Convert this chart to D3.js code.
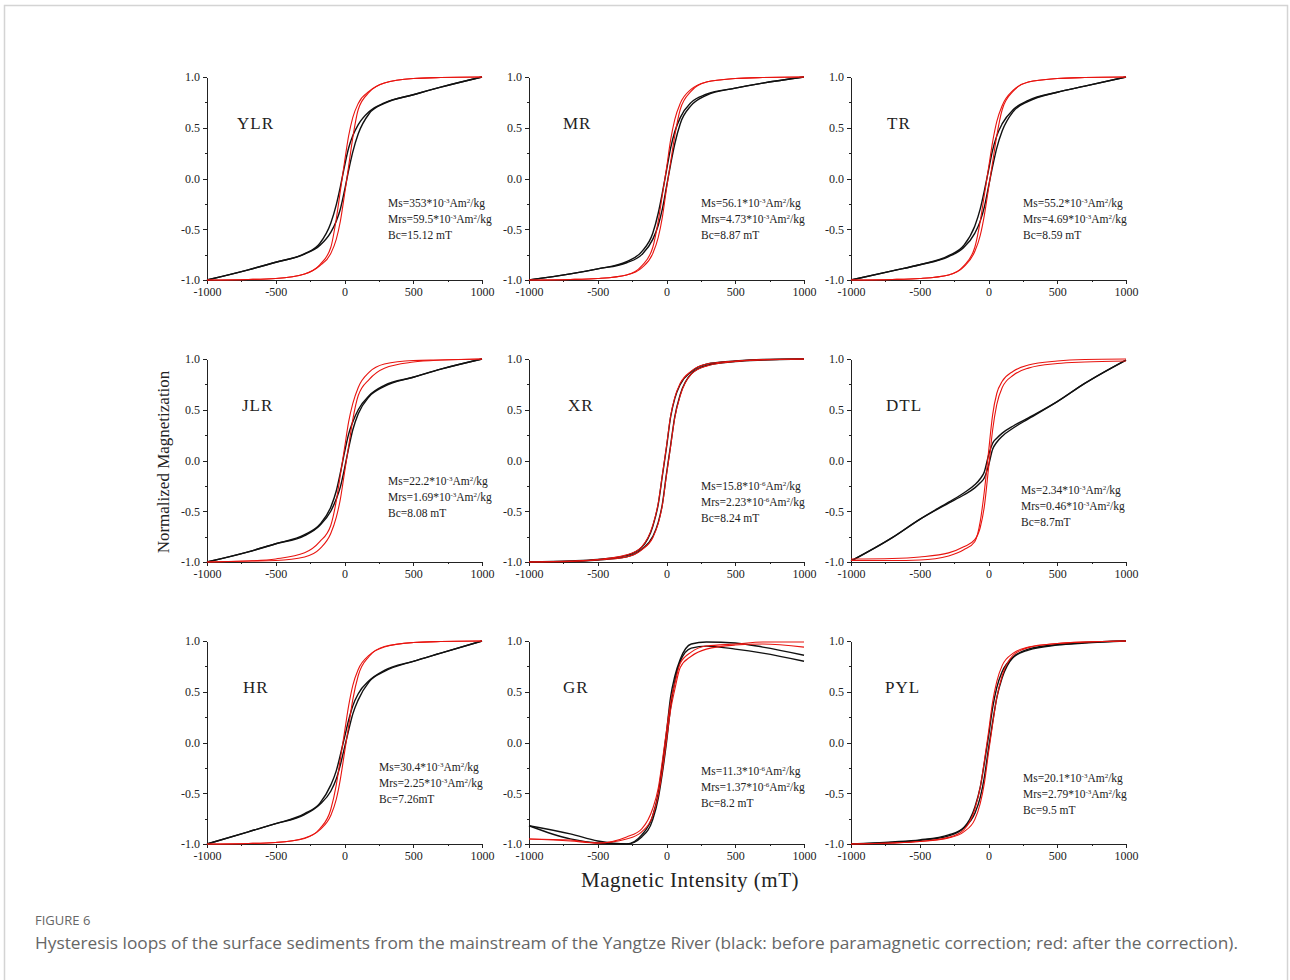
<!DOCTYPE html>
<meta charset="utf-8">
<style>
body { margin: 0; background: #fff; }
.axis path, .axis line { stroke: #222; shape-rendering: crispEdges; }
.axis text { font-family: "Liberation Serif", serif; font-size: 12px; fill: #222; }
.loop { fill: none; }
</style>
<body>
<script src="https://d3js.org/d3.v7.min.js"></script>
<script>
// applied field (mT) at which every branch is sampled
var fields = [-1000,-700,-500,-290,-180,-100,-60,-30,0,30,60,100,180,290,500,700,1000];

var panelNames = ["YLR","MR","TR","JLR","XR","DTL","HR","GR","PYL"];
var msVal  = ["353","56.1","55.2","22.2","15.8","2.34","30.4","11.3","20.1"];
var mrsVal = ["59.5","4.73","4.69","1.69","2.23","0.46","2.25","1.37","2.79"];
var unitExp = ["-3","-3","-3","-3","-6","-3","-3","-6","-3"];
var bcVal  = ["15.12 mT","8.87 mT","8.59 mT","8.08 mT","8.24 mT","8.7mT","7.26mT","8.2 mT","9.5 mT"];

var yTicks = [-1.0,-0.5,0.0,0.5,1.0];
var xTicks = [-1000,-500,0,500,1000];

// black: before paramagnetic correction, red: after. asc = lower branch, desc = upper branch
var ylrBlackAsc  = [-1.0,-0.90,-0.825,-0.745,-0.66,-0.53,-0.42,-0.30,-0.12,0.08,0.26,0.44,0.64,0.74,0.825,0.90,1.0];
var ylrBlackDesc = [-1.0,-0.90,-0.825,-0.74,-0.64,-0.44,-0.26,-0.08,0.12,0.30,0.42,0.53,0.66,0.745,0.825,0.90,1.0];
var ylrRedAsc    = [-1.0,-0.995,-0.985,-0.94,-0.86,-0.74,-0.60,-0.42,-0.16,0.12,0.40,0.68,0.85,0.94,0.985,0.995,1.0];
var ylrRedDesc   = [-1.0,-0.995,-0.985,-0.94,-0.85,-0.68,-0.40,-0.12,0.16,0.42,0.60,0.74,0.86,0.94,0.985,0.995,1.0];

var mrBlackAsc  = [-1.0,-0.94,-0.89,-0.83,-0.75,-0.60,-0.46,-0.30,-0.08,0.14,0.34,0.54,0.72,0.82,0.89,0.94,1.0];
var mrBlackDesc = [-1.0,-0.94,-0.89,-0.82,-0.72,-0.54,-0.34,-0.14,0.08,0.30,0.46,0.60,0.75,0.83,0.89,0.94,1.0];
var mrRedAsc    = [-1.0,-0.995,-0.985,-0.95,-0.88,-0.74,-0.58,-0.38,-0.10,0.16,0.42,0.68,0.86,0.95,0.985,0.995,1.0];
var mrRedDesc   = [-1.0,-0.995,-0.985,-0.95,-0.86,-0.68,-0.42,-0.16,0.10,0.38,0.58,0.74,0.88,0.95,0.985,0.995,1.0];

var trBlackAsc  = [-1.0,-0.91,-0.85,-0.77,-0.68,-0.54,-0.42,-0.28,-0.08,0.12,0.30,0.47,0.66,0.76,0.85,0.91,1.0];
var trBlackDesc = [-1.0,-0.91,-0.85,-0.76,-0.66,-0.47,-0.30,-0.12,0.08,0.28,0.42,0.54,0.68,0.77,0.85,0.91,1.0];
var trRedAsc    = [-1.0,-0.995,-0.985,-0.95,-0.87,-0.72,-0.56,-0.36,-0.10,0.16,0.42,0.68,0.86,0.95,0.985,0.995,1.0];
var trRedDesc   = [-1.0,-0.995,-0.985,-0.95,-0.86,-0.68,-0.42,-0.16,0.10,0.36,0.56,0.72,0.87,0.95,0.985,0.995,1.0];

var jlrBlackAsc  = [-1.0,-0.90,-0.82,-0.74,-0.64,-0.50,-0.38,-0.26,-0.08,0.12,0.30,0.46,0.63,0.73,0.82,0.90,1.0];
var jlrBlackDesc = [-1.0,-0.90,-0.82,-0.73,-0.63,-0.46,-0.30,-0.12,0.08,0.26,0.38,0.50,0.64,0.74,0.82,0.90,1.0];
var jlrRedAsc    = [-1.0,-0.99,-0.985,-0.95,-0.87,-0.72,-0.56,-0.38,-0.12,0.14,0.40,0.64,0.80,0.91,0.97,0.99,1.0];
var jlrRedDesc   = [-1.0,-0.99,-0.97,-0.91,-0.80,-0.64,-0.40,-0.14,0.12,0.38,0.56,0.72,0.87,0.95,0.985,0.99,1.0];

var xrBlackAsc  = [-1.0,-0.995,-0.98,-0.95,-0.875,-0.75,-0.61,-0.43,-0.13,0.15,0.43,0.65,0.855,0.935,0.975,0.99,1.0];
var xrBlackDesc = [-1.0,-0.99,-0.975,-0.935,-0.855,-0.65,-0.43,-0.15,0.13,0.43,0.61,0.75,0.875,0.95,0.98,0.995,1.0];
var xrRedAsc    = [-1.0,-0.995,-0.98,-0.95,-0.88,-0.76,-0.62,-0.44,-0.14,0.14,0.42,0.64,0.85,0.93,0.975,0.99,1.0];
var xrRedDesc   = [-1.0,-0.99,-0.975,-0.93,-0.85,-0.64,-0.42,-0.14,0.14,0.44,0.62,0.76,0.88,0.95,0.98,0.995,1.0];

var dtlBlackAsc  = [-0.99,-0.76,-0.58,-0.42,-0.34,-0.27,-0.22,-0.17,-0.05,0.11,0.18,0.24,0.32,0.41,0.58,0.76,0.99];
var dtlBlackDesc = [-0.99,-0.76,-0.58,-0.41,-0.32,-0.24,-0.18,-0.11,0.05,0.17,0.22,0.27,0.34,0.42,0.58,0.76,0.99];
var dtlRedAsc    = [-0.97,-0.965,-0.95,-0.91,-0.85,-0.78,-0.66,-0.45,-0.08,0.30,0.55,0.72,0.84,0.91,0.955,0.97,0.98];
var dtlRedDesc   = [-0.985,-0.985,-0.98,-0.94,-0.88,-0.80,-0.60,-0.30,0.08,0.45,0.66,0.78,0.88,0.94,0.98,0.995,1.0];

var hrBlackAsc  = [-1.0,-0.88,-0.80,-0.71,-0.61,-0.48,-0.36,-0.22,-0.05,0.12,0.28,0.42,0.60,0.70,0.80,0.88,1.0];
var hrBlackDesc = [-1.0,-0.88,-0.80,-0.70,-0.60,-0.42,-0.28,-0.12,0.05,0.22,0.36,0.48,0.61,0.71,0.80,0.88,1.0];
var hrRedAsc    = [-1.0,-0.995,-0.985,-0.94,-0.86,-0.72,-0.56,-0.36,-0.10,0.16,0.42,0.66,0.85,0.945,0.985,0.995,1.0];
var hrRedDesc   = [-1.0,-0.995,-0.985,-0.945,-0.85,-0.66,-0.42,-0.16,0.10,0.36,0.56,0.72,0.86,0.94,0.985,0.995,1.0];

var grBlackAsc  = [-0.82,-0.95,-0.99,-1.0,-0.93,-0.76,-0.55,-0.30,0.0,0.35,0.60,0.80,0.93,0.95,0.92,0.88,0.80];
var grBlackDesc = [-0.82,-0.90,-0.97,-1.0,-0.91,-0.72,-0.50,-0.22,0.10,0.45,0.65,0.82,0.97,0.99,0.98,0.94,0.86];
var grRedAsc    = [-0.95,-0.97,-0.99,-0.95,-0.88,-0.72,-0.52,-0.28,0.02,0.32,0.52,0.74,0.85,0.92,0.96,0.97,0.94];
var grRedDesc   = [-0.95,-0.96,-0.99,-0.93,-0.85,-0.65,-0.45,-0.18,0.12,0.40,0.58,0.78,0.89,0.95,0.97,0.99,0.99];

var pylBlackAsc  = [-1.0,-0.98,-0.96,-0.91,-0.84,-0.70,-0.54,-0.34,-0.06,0.20,0.44,0.64,0.84,0.92,0.965,0.985,1.0];
var pylBlackDesc = [-1.0,-0.985,-0.965,-0.92,-0.84,-0.64,-0.44,-0.20,0.06,0.34,0.54,0.70,0.84,0.91,0.96,0.98,1.0];
var pylRedAsc    = [-1.0,-0.99,-0.975,-0.94,-0.88,-0.76,-0.60,-0.40,-0.10,0.18,0.44,0.66,0.86,0.935,0.975,0.99,1.0];
var pylRedDesc   = [-1.0,-0.99,-0.975,-0.935,-0.86,-0.66,-0.44,-0.18,0.10,0.40,0.60,0.76,0.88,0.94,0.975,0.99,1.0];

var loops = [
  [ylrBlackAsc, ylrBlackDesc, ylrRedAsc, ylrRedDesc],
  [mrBlackAsc, mrBlackDesc, mrRedAsc, mrRedDesc],
  [trBlackAsc, trBlackDesc, trRedAsc, trRedDesc],
  [jlrBlackAsc, jlrBlackDesc, jlrRedAsc, jlrRedDesc],
  [xrBlackAsc, xrBlackDesc, xrRedAsc, xrRedDesc],
  [dtlBlackAsc, dtlBlackDesc, dtlRedAsc, dtlRedDesc],
  [hrBlackAsc, hrBlackDesc, hrRedAsc, hrRedDesc],
  [grBlackAsc, grBlackDesc, grRedAsc, grRedDesc],
  [pylBlackAsc, pylBlackDesc, pylRedAsc, pylRedDesc]
];

// layout
var W = 1290, H = 980;
var colLeft = [207, 529, 851], rowTop = [77, 359, 641];
var pw = 275, ph = 203;
var labelDx = [30, 34, 36, 35, 39, 35, 36, 34, 34];
var noteDx = [181, 172, 172, 181, 172, 170, 172, 172, 172];
var noteY = [-0.24, -0.24, -0.24, -0.20, -0.25, -0.29, -0.24, -0.28, -0.35];

var svg = d3.select("body").append("svg")
    .attr("width", W)
    .attr("height", H);

// light frame round the figure
svg.append("rect")
    .attr("x", 4.5).attr("y", 5.5)
    .attr("width", 1283).attr("height", 1000)
    .attr("fill", "none")
    .attr("stroke", "#d4d4d4")
    .attr("stroke-width", 1.5);

var x = d3.scaleLinear().domain([-1000, 1000]).range([0, pw]);
var y = d3.scaleLinear().domain([-1, 1]).range([ph, 0]);

var line = d3.line()
    .x(function(d) { return x(d[0]); })
    .y(function(d) { return y(d[1]); })
    .curve(d3.curveMonotoneX);

panelNames.forEach(function(name, i) {
  var g = svg.append("g")
      .attr("transform", "translate(" + colLeft[i % 3] + "," + rowTop[Math.floor(i / 3)] + ")");

  // minor ticks
  g.append("g").attr("class", "axis")
      .call(d3.axisLeft(y).tickValues([-0.75,-0.25,0.25,0.75]).tickSize(2).tickFormat(""))
      .select(".domain").remove();
  g.append("g").attr("class", "axis")
      .attr("transform", "translate(0," + ph + ")")
      .call(d3.axisBottom(x).tickValues([-750,-250,250,750]).tickSize(2).tickFormat(""))
      .select(".domain").remove();

  // main axes
  g.append("g").attr("class", "axis")
      .call(d3.axisLeft(y).tickValues(yTicks).tickSize(4).tickSizeOuter(0).tickFormat(d3.format(".1f")))
      .selectAll("text").text(function(d) { return d3.format(".1f")(d).replace("−", "-"); });
  g.append("g").attr("class", "axis")
      .attr("transform", "translate(0," + ph + ")")
      .call(d3.axisBottom(x).tickValues(xTicks).tickSize(4).tickSizeOuter(0))
      .selectAll("text").text(function(d) { return String(d); });

  var set = loops[i];
  var colors = ["#111", "#111", "#e8140f", "#e8140f"];
  var widths = [1.4, 1.4, 1.1, 1.1];
  set.forEach(function(vals, k) {
    g.append("path")
        .datum(fields.map(function(f, j) { return [f, vals[j]]; }))
        .attr("class", "loop")
        .attr("stroke", colors[k])
        .attr("stroke-width", widths[k])
        .attr("d", line);
  });

  // sample label
  g.append("text")
      .attr("x", labelDx[i])
      .attr("y", y(0.5) + 1)
      .style("font-family", "Liberation Serif, serif")
      .style("font-size", "17px")
      .style("letter-spacing", "1px")
      .attr("fill", "#222")
      .text(name);

  // Ms / Mrs / Bc note
  var note = g.append("text")
      .attr("x", noteDx[i])
      .attr("y", y(noteY[i]) + 4)
      .style("font-family", "Liberation Serif, serif")
      .style("font-size", "11.5px")
      .attr("fill", "#222");
  var rows = [["Ms=" + msVal[i], true], ["Mrs=" + mrsVal[i], true], ["Bc=" + bcVal[i], false]];
  rows.forEach(function(r, k) {
    var t = note.append("tspan").attr("x", noteDx[i]).attr("dy", k === 0 ? 0 : 16);
    if (!r[1]) { t.text(r[0]); return; }
    t.text(r[0] + "*10");
    note.append("tspan").attr("dy", -4).style("font-size", "7px").text(unitExp[i]);
    note.append("tspan").attr("dy", 4).text("Am");
    note.append("tspan").attr("dy", -4).style("font-size", "7px").text("2");
    note.append("tspan").attr("dy", 4).text("/kg");
  });
});

// shared axis titles
svg.append("text")
    .attr("transform", "translate(169,462) rotate(-90)")
    .attr("text-anchor", "middle")
    .style("font-family", "Liberation Serif, serif")
    .style("font-size", "17px")
    .attr("fill", "#222")
    .text("Normalized Magnetization");

svg.append("text")
    .attr("x", 690).attr("y", 887)
    .attr("text-anchor", "middle")
    .style("font-family", "Liberation Serif, serif")
    .style("font-size", "21px")
    .style("letter-spacing", "0.5px")
    .attr("fill", "#222")
    .text("Magnetic Intensity (mT)");

// caption
svg.append("text")
    .attr("x", 35).attr("y", 925)
    .style("font-family", "Open Sans, sans-serif")
    .style("font-size", "13px")
    .attr("fill", "#666")
    .text("FIGURE 6");

svg.append("text")
    .attr("x", 35).attr("y", 949)
    .attr("textLength", 1203)
    .attr("lengthAdjust", "spacingAndGlyphs")
    .style("font-family", "Open Sans, sans-serif")
    .style("font-size", "17px")
    .attr("fill", "#666")
    .text("Hysteresis loops of the surface sediments from the mainstream of the Yangtze River (black: before paramagnetic correction; red: after the correction).");
</script>
</body>
